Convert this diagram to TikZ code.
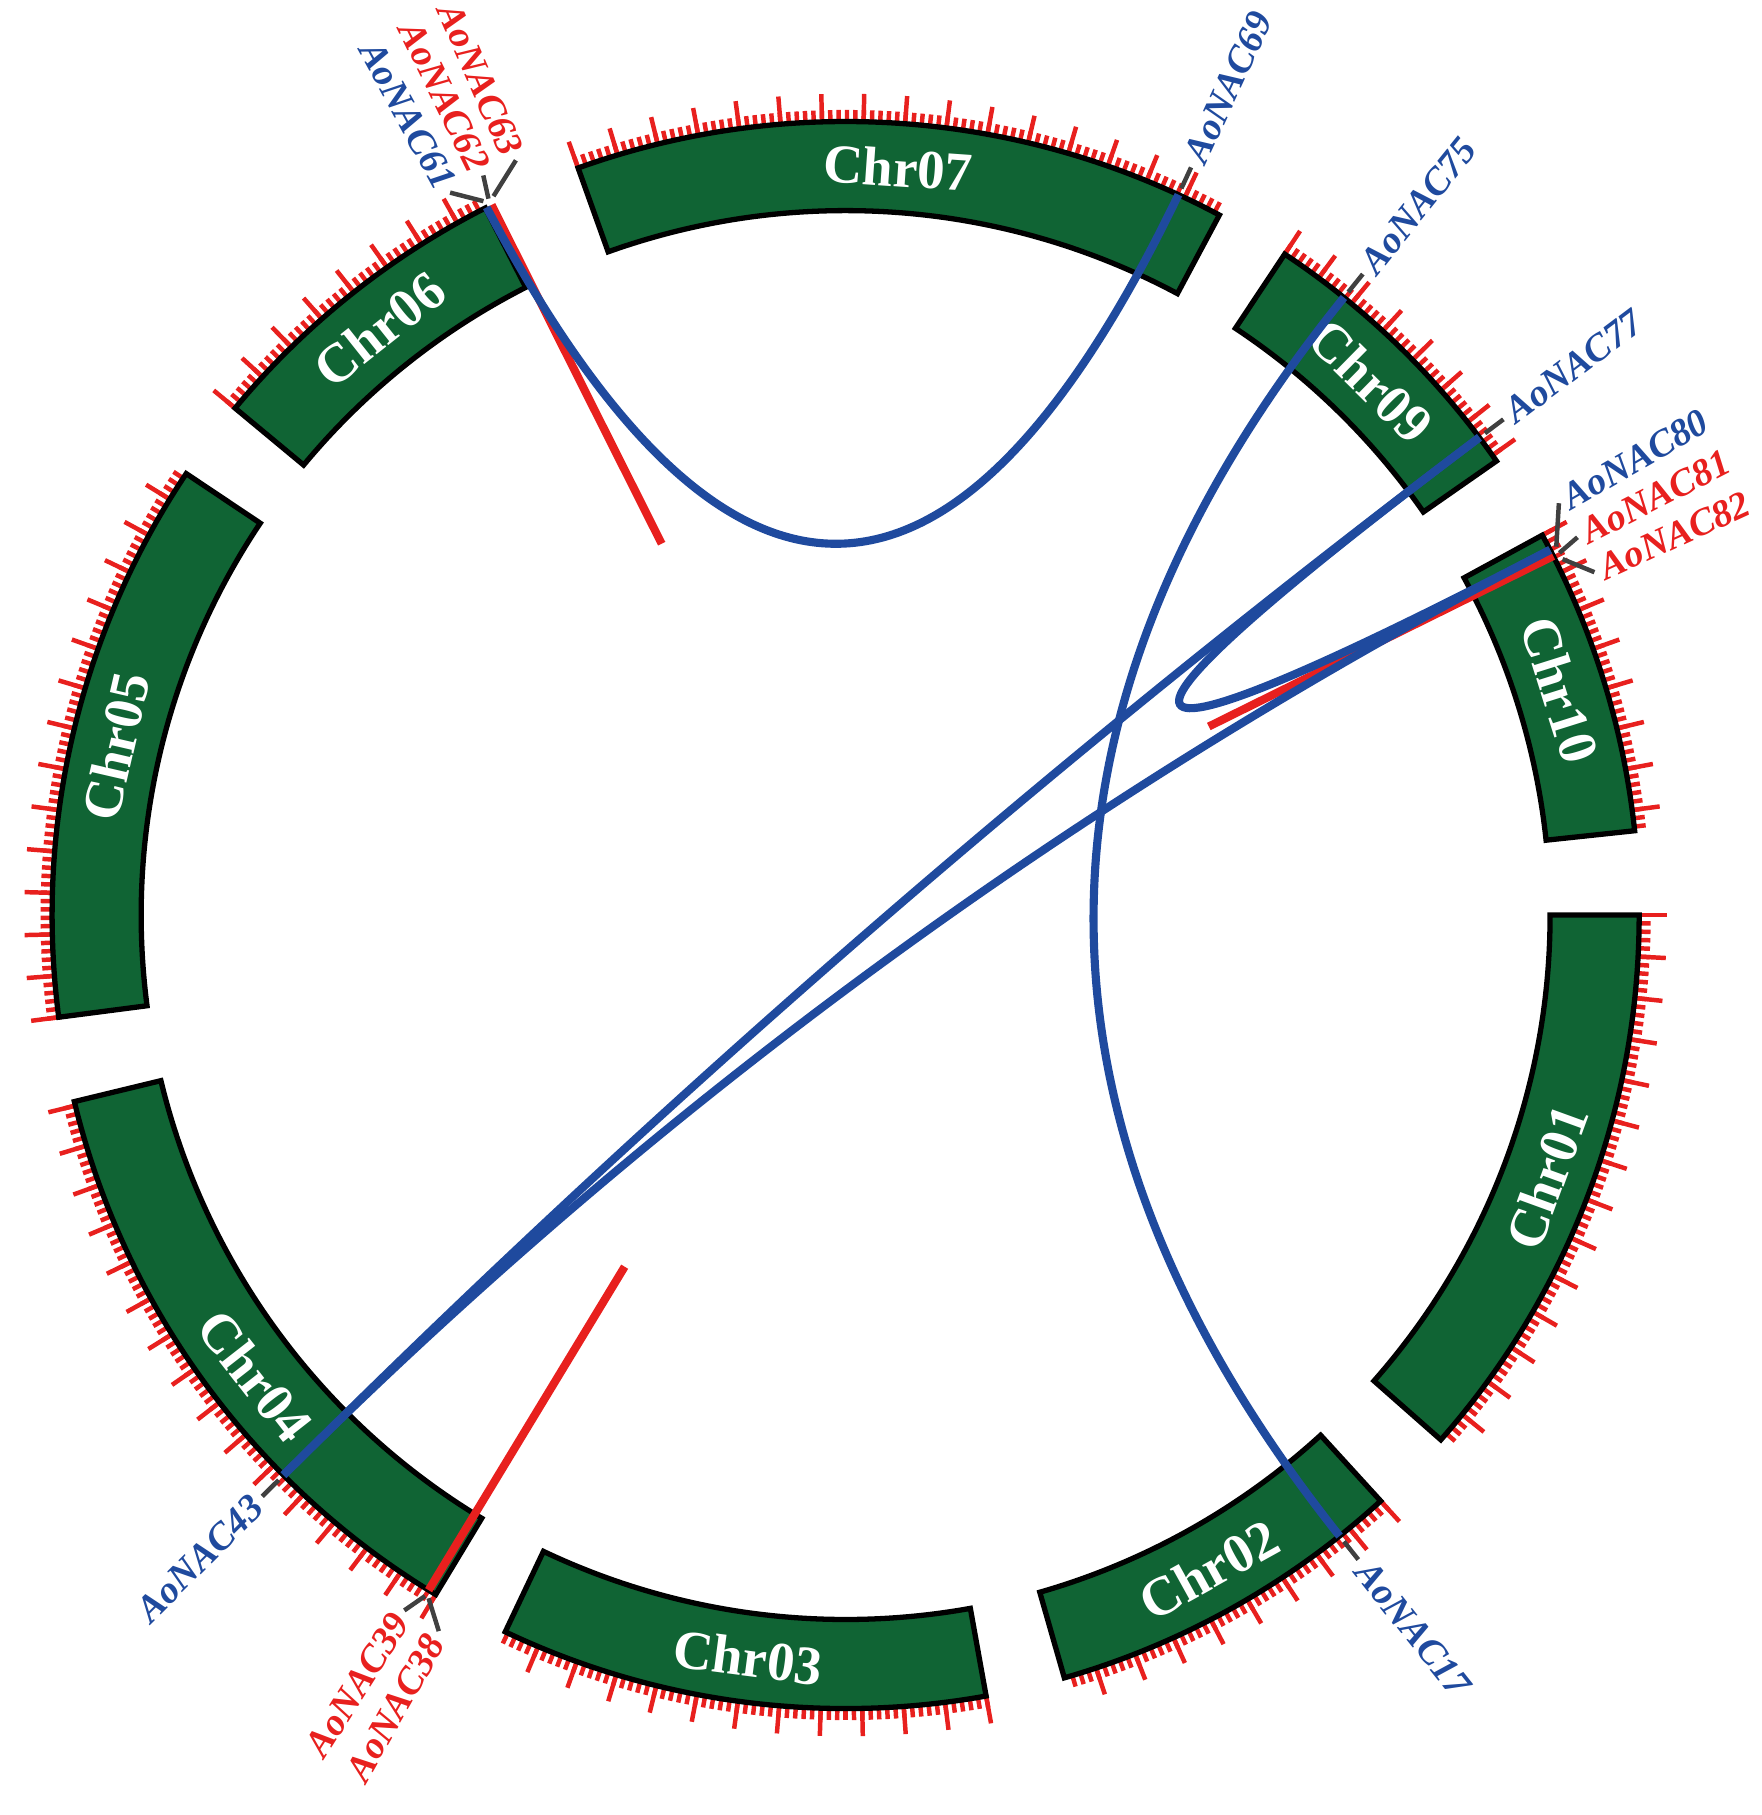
\documentclass[tikz,border=0pt]{standalone}
\usepackage{fontspec}
\setmainfont{Liberation Serif}
\usetikzlibrary{positioning,calc}
\definecolor{chrgreen}{HTML}{106434}
\definecolor{linkblue}{HTML}{1F4A9E}
\definecolor{linkred}{HTML}{E8201E}
\definecolor{leadgray}{HTML}{404040}

\tikzset{
    chr/.style={draw=black, fill=chrgreen, line width=1.3pt, line join=miter},
    chrlabel/.style={text=white, font=\fontsize{13.5}{13.5}\selectfont\bfseries},
    tick/.style={draw=linkred, line width=1.1pt},
    link/.style={draw=linkblue, line width=2pt},
    redlink/.style={draw=linkred, line width=2pt},
    lead/.style={draw=leadgray, line width=1.1pt},
    genelabel/.style={font=\fontsize{9.4}{9.4}\selectfont\bfseries\itshape, inner sep=0.5pt}
}

% band from angle #1 to #2, label #3 at angle #4, text rotation #5
\newcommand{\chrom}[5]{
    \pgfmathsetmacro\tkminor{#1-0.6}
    \pgfmathsetmacro\tkmajor{#1-3}
    \foreach \a in {#1,\tkminor,...,#2} \draw[tick] (\a:6.84) -- (\a:6.96);
    \foreach \a in {#1,\tkmajor,...,#2} \draw[tick] (\a:6.84) -- (\a:7.1);
    \draw[chr] (#1:6.09) arc[start angle=#1, end angle=#2, radius=6.09]
        -- (#2:6.86) arc[start angle=#2, end angle=#1, radius=6.86] -- cycle;
    \node[chrlabel, rotate=#5] (chr#3) at (#4:6.475) {Chr#3};
}
% gene #1 at angle #2, label at angle #3, colour #4, rotation #5, anchor #6
\newcommand{\gene}[6]{
    \coordinate (g#1) at (#2:6.86);
    \coordinate (t#1) at (#3:7.12);
    \draw[lead] (#2:6.92) -- (t#1);
    \node[genelabel, text=#4, rotate=#5, anchor=#6] (n#1) at (#3:7.16) {AoNAC#1};
}
% quadratic link from #1 to #2 pulled to point #3
\newcommand{\qlink}[3]{
    \draw[link] (#1) .. controls ($(#1)!0.667!(#3)$) and ($(#2)!0.667!(#3)$) .. (#2);
}

\begin{document}
\begin{tikzpicture}
    \useasboundingbox (0,0) rectangle (15.23,-15.69);
    \begin{scope}[shift={(7.31,-7.91)}]
        % chromosomes
        \chrom{0}{-41.4}{01}{-20.5}{70}
        \chrom{-47.6}{-74}{02}{-61}{29}
        \chrom{-79.8}{-115.4}{03}{-97.5}{-7.5}
        \chrom{-121.1}{-166.4}{04}{-142}{-52}
        \chrom{187.4}{146.2}{05}{167}{77}
        \chrom{140.3}{117}{06}{128.5}{38.5}
        \chrom{109.7}{61.9}{07}{86}{-4}
        \chrom{56.4}{34.9}{09}{45.5}{-44.5}
        \chrom{28.6}{6.1}{10}{17.5}{-72.5}

        % genes
        \gene{61}{116.9}{118.7}{linkblue}{-61.3}{east}
        \gene{62}{116.5}{116.1}{linkred}{-63.9}{east}
        \gene{63}{116.1}{113.6}{linkred}{-66.4}{east}
        \gene{69}{65.2}{65.2}{linkblue}{65.2}{west}
        \gene{75}{51.1}{51.1}{linkblue}{51.1}{west}
        \gene{77}{37}{37}{linkblue}{37}{west}
        \gene{80}{27.4}{30}{linkblue}{30}{west}
        \gene{81}{26.9}{27.3}{linkred}{27.3}{west}
        \gene{82}{26.4}{24.6}{linkred}{24.6}{west}
        \gene{17}{-51.5}{-51.5}{linkblue}{-51.5}{west}
        \gene{43}{-135.1}{-135.1}{linkblue}{44.9}{east}
        \gene{39}{-121.7}{-122.4}{linkred}{57.6}{east}
        \gene{38}{-121.4}{-119.6}{linkred}{60.4}{east}

        % free ends of red links
        \coordinate (e62) at (-1.59,3.21);
        \coordinate (e39) at (-1.91,-3.04);
        \coordinate (e81) at (3.14,1.63);
        \coordinate (c0) at (0,0);
        \coordinate (c1) at (0,0.25);

        \draw[redlink] (g62) -- (e62);
        \draw[redlink] (g39) -- (e39);
        \draw[redlink] (g81) -- (e81);

        \qlink{g61}{g69}{c1}
        \qlink{g75}{g17}{c0}
        \qlink{g43}{g77}{c0}
        \qlink{g43}{g80}{c0}
        \qlink{g77}{g80}{c0}
    \end{scope}
\end{tikzpicture}
\end{document}
